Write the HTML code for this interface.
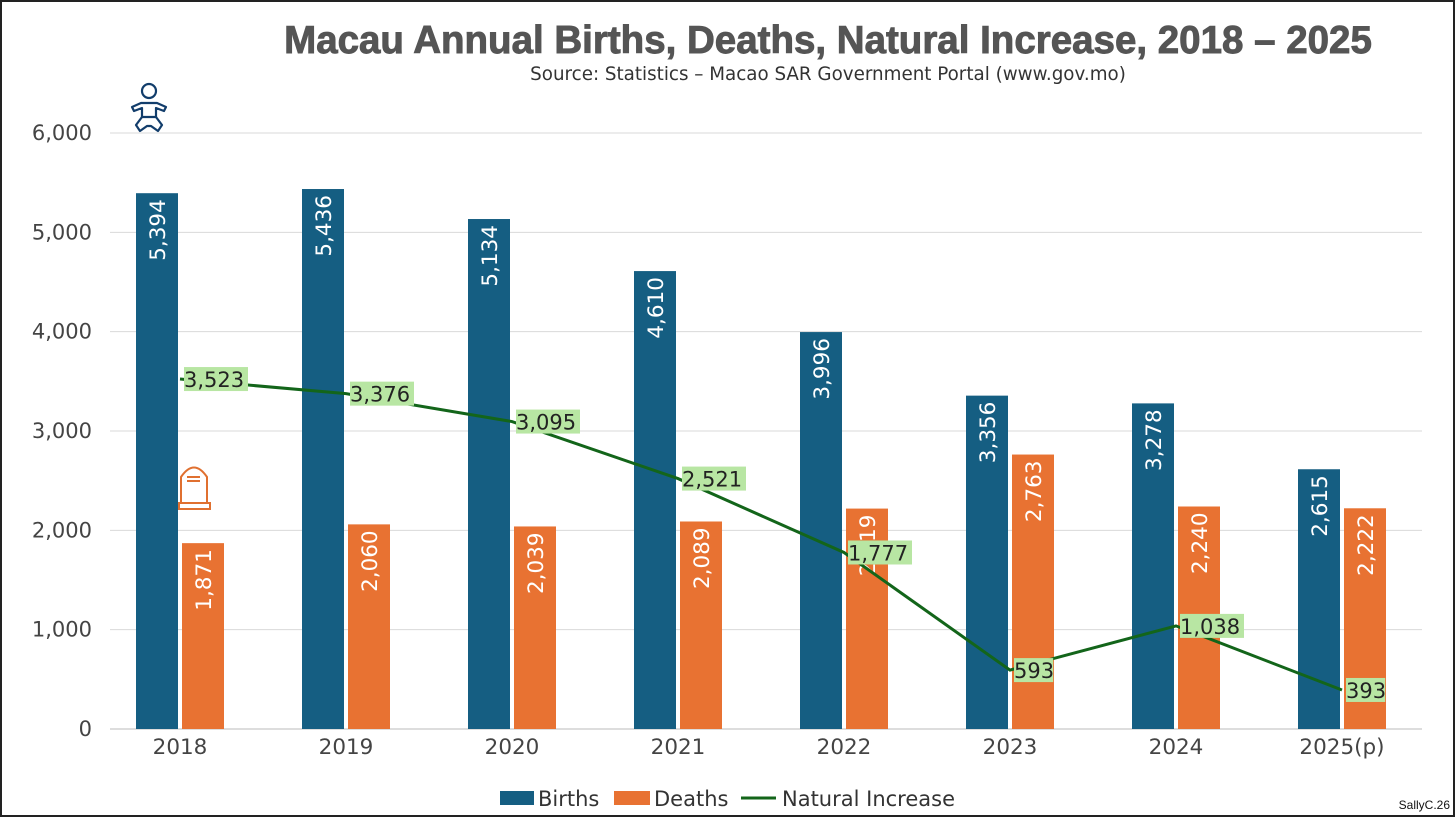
<!DOCTYPE html>
<html><head><meta charset="utf-8"><style>
body{margin:0;background:#fff;}
svg{display:block;font-family:"DejaVu Sans","Liberation Sans",sans-serif;}
</style></head><body>
<svg width="1456" height="819" viewBox="0 0 1456 819">
<rect x="1" y="1" width="1453" height="815" fill="#fff" stroke="#222" stroke-width="2"/>
<text x="828" y="53" text-anchor="middle" font-family="Liberation Sans,sans-serif" font-weight="bold" font-size="38.5" fill="#555" stroke="#555" stroke-width="0.9">Macau Annual Births, Deaths, Natural Increase, 2018 – 2025</text>
<text x="828" y="80" text-anchor="middle" font-size="18.3" fill="#333">Source: Statistics – Macao SAR Government Portal (www.gov.mo)</text>
<g id="grid"></g><g id="bars"></g><g id="line"></g>
<g fill="none" stroke="#123d6b" stroke-width="2.2" stroke-linejoin="round">
<circle cx="149" cy="91" r="7"/>
<path d="M141 103 L132 107 L134 111 L142 108 L142 117 L156 117 L156 108 L164 111 L166 107 L157 103 Z"/>
<path d="M142 117 L136 125 L140 131 L147 126 L151 126 L158 131 L162 125 L156 117"/>
</g>
<g fill="none" stroke="#e07030" stroke-width="2">
<path d="M181 503 L181 477 Q194 458 207 477 L207 503"/>
<rect x="179" y="503" width="31" height="6"/>
<line x1="187" y1="477" x2="200" y2="477"/><line x1="187" y1="481" x2="200" y2="481"/>
</g>
<g font-size="21" fill="#333">
<rect x="500" y="791" width="34" height="14" fill="#155e82"/><text x="538" y="806">Births</text>
<rect x="614" y="791" width="36" height="14" fill="#e87232"/><text x="654" y="806">Deaths</text>
<line x1="741" y1="798" x2="776" y2="798" stroke="#13651a" stroke-width="3"/><text x="782" y="806">Natural Increase</text>
</g>
<text x="1450" y="809" text-anchor="end" font-family="Liberation Sans,sans-serif" font-size="12" fill="#111">SallyC.26</text>
</svg>
<script>
const categories=["2018","2019","2020","2021","2022","2023","2024","2025(p)"];
const births=[5394,5436,5134,4610,3996,3356,3278,2615];
const deaths=[1871,2060,2039,2089,2219,2763,2240,2222];
const natural=[3523,3376,3095,2521,1777,593,1038,393];
const yTicks=[0,1000,2000,3000,4000,5000,6000];
const NS="http://www.w3.org/2000/svg";
const y=v=>729-v*596/6000;
const x=i=>180+i*166;
const fmt=v=>v.toLocaleString("en-US");
function mk(p,t,a){const e=document.createElementNS(NS,t);for(const k in a)e.setAttribute(k,a[k]);p.appendChild(e);return e;}
const grid=document.getElementById("grid"),bars=document.getElementById("bars"),line=document.getElementById("line");
yTicks.forEach(v=>{
 const l=mk(grid,"line",{x1:110,x2:1422,y1:y(v),y2:y(v),stroke:v?"#d9d9d9":"#bbb","stroke-width":1});
 
 
 const t=mk(grid,"text",{x:92,y:y(v)+7,"text-anchor":"end","font-size":21,fill:"#444"});t.textContent=fmt(v);
 
 
});
categories.forEach((c,i)=>{
 const t=mk(grid,"text",{x:x(i),y:754,"text-anchor":"middle","font-size":21.5,fill:"#444"});t.textContent=c;
 
 
 [[births[i],x(i)-44,"#155e82","births-bar"],[deaths[i],x(i)+2,"#e87232","deaths-bar"]].forEach(([v,bx,col,nm])=>{
  const r=mk(bars,"rect",{x:bx,y:y(v),width:42,height:729-y(v),fill:col});
  
  
  const cx=bx+21,cy=y(v)+6;
  const lt=mk(bars,"text",{x:cx,y:cy,transform:`rotate(-90 ${cx} ${cy})`,"text-anchor":"end","font-size":21.5,fill:"#fff",dy:8});lt.textContent=fmt(v);
  
  
 });
});
const pts=natural.map((v,i)=>x(i)+","+y(v)).join(" ");
const pl=mk(line,"polyline",{points:pts,fill:"none",stroke:"#13651a","stroke-width":3});


natural.forEach((v,i)=>{
 const s=fmt(v),w=s.length*12.4+2;
 const bg=mk(line,"rect",{x:x(i)+4,y:y(v)-12,width:w,height:24,fill:"#b8e6a3"});
 
 
 const t=mk(line,"text",{x:x(i)+4,y:y(v)+8,"font-size":21,fill:"#222"});t.textContent=s;
 
 
});
</script>
</body></html>
